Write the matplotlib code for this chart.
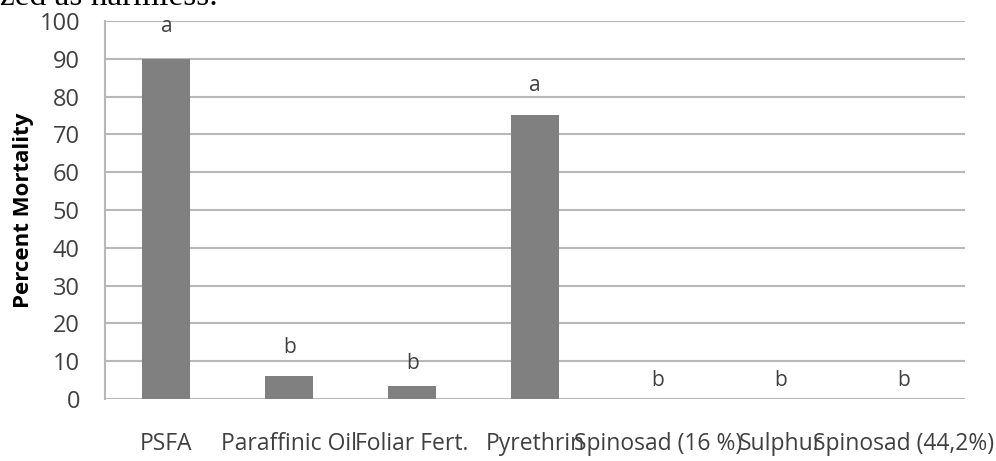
import numpy as np
import matplotlib.pyplot as plt

# Data
treatments = ['PSFA', 'Paraffinic Oil', 'Foliar Fert.', 'Pyrethrin',
              'Spinosad (16 %)', 'Sulphur', 'Spinosad (44,2%)']
mortality = [90, 6, 3.5, 75, 0, 0, 0]
letters = ['a', 'b', 'b', 'a', 'b', 'b', 'b']
letter_y = [98.5, 13.5, 9.5, 83, 5, 5, 5]

plt.rcParams['font.family'] = ['Open Sans', 'DejaVu Sans']

fig = plt.figure(figsize=(9.96, 4.61), dpi=100)
ax = fig.add_axes([0.1054, 0.1345, 0.8636, 0.82])

x = np.arange(len(treatments))
ax.bar(x, mortality, width=0.39, color='#808080', zorder=3)

# significance letters above each bar
for xi, lab, ly in zip(x, letters, letter_y):
    ax.text(xi, ly, lab, ha='center', va='center', fontsize=15, color='#404040')

ax.set_xlim(-0.5, len(treatments) - 0.5)
ax.set_ylim(0, 100)
ax.set_yticks(np.arange(0, 101, 10))
ax.set_xticks(x)
ax.set_xticklabels(treatments, fontsize=16.5)
ax.yaxis.grid(True, color='#b8b8b8', linewidth=1.5, zorder=0)
ax.set_axisbelow(True)

for s in ['top', 'right', 'bottom']:
    ax.spines[s].set_visible(False)
ax.spines['left'].set_color('#b8b8b8')
ax.spines['left'].set_linewidth(1.5)

ax.tick_params(axis='y', length=0, pad=18, labelsize=17, labelcolor='#404040')
ax.tick_params(axis='x', length=0, pad=24, labelcolor='#404040')

ax.set_ylabel('Percent Mortality', fontsize=16, fontweight='bold', labelpad=4)

# fragment of the surrounding document text, cut off at the top edge
fig.text(0.0, 0.989, 'zed as harmless.', family='Liberation Serif',
         fontsize=24, ha='left', va='baseline', color='black')

fig.savefig('out.png', dpi=100)
